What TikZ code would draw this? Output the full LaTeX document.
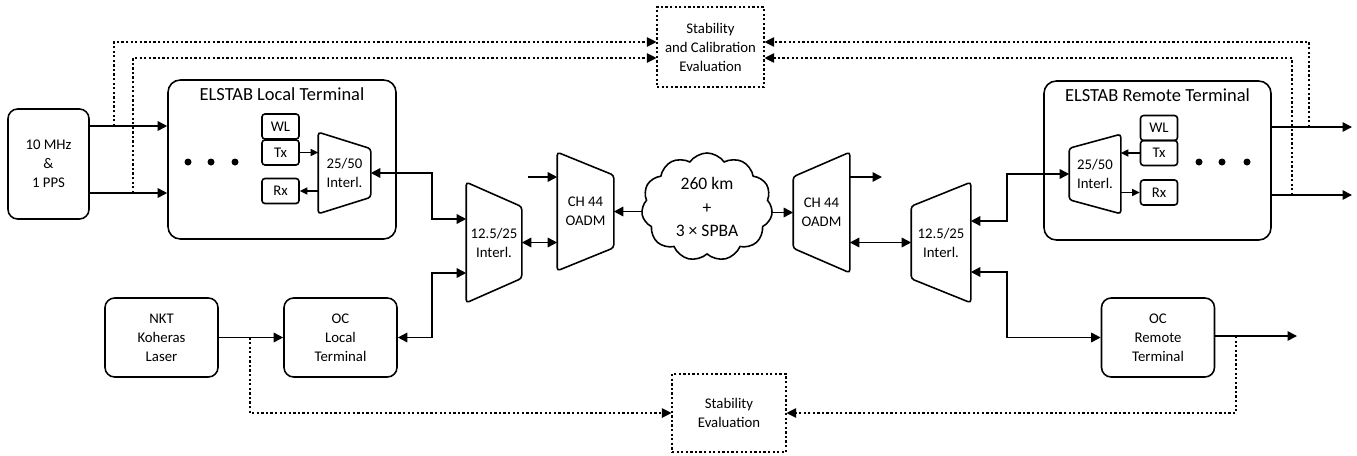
\documentclass[tikz,border=0pt]{standalone}
\usepackage{fontspec}
\setmainfont{Carlito}
\usetikzlibrary{arrows.meta,shapes.symbols}

\tikzset{
    box/.style={draw, rounded corners=5.5pt, align=center, inner sep=1pt,
        minimum width=22.6mm, minimum height=15.8mm},
    bigbox/.style={draw, rounded corners=7pt, minimum width=45.6mm, minimum height=31.8mm},
    smallbox/.style={draw, rounded corners=1.7pt, inner sep=0pt,
        minimum width=7.4mm, minimum height=5mm},
    dotbox/.style={draw, dotline, align=center, inner sep=1pt},
    trap/.style={align=center, inner sep=0pt},
    trapline/.style={rounded corners=1.7pt},
    title/.style={font=\fontsize{10.5}{12.6}\selectfont},
    dotline/.style={line width=0.6pt, dash pattern=on 1.3pt off 1.3pt},
    arr/.style={-{Triangle[length=1.9mm,width=1.9mm]}},
    sarr/.style={-{Triangle[length=1.5mm,width=1.4mm]}},
    dbl/.style={{Triangle[length=1.9mm,width=1.9mm]}-{Triangle[length=1.9mm,width=1.9mm]}},
    blob/.style={circle, fill, inner sep=0pt, minimum size=1.4mm}
}

\begin{document}
\begin{tikzpicture}[x=0.2mm, y=-0.2mm, line width=0.9pt,
        font=\fontsize{8.4}{10.8}\selectfont]

    \useasboundingbox (0,0) rectangle (1357,455);

    % local side
    \node[box, minimum width=16.2mm, minimum height=22mm] (src) at (48.5,164) {10 MHz\\\&\\1 PPS};
    \node[bigbox] (loc) at (282,159.5) {};
    \node[title] (loct) at (282,94) {ELSTAB Local Terminal};
    \node[smallbox] (wl1) at (280.5,126.5) {WL};
    \node[smallbox] (tx1) at (280.5,152.5) {Tx};
    \node[smallbox] (rx1) at (280.5,191) {Rx};
    \node[blob] (d1) at (188,162) {};
    \node[blob] (d2) at (211,162) {};
    \node[blob] (d3) at (235,162) {};
    \node[trap, minimum width=10.2mm, minimum height=16mm] (lint) at (344.5,173) {25/50\\Interl.};
    \draw[trapline] (lint.north west) -- ([yshift=-3.3mm]lint.north east)
        -- ([yshift=3.3mm]lint.south east) -- (lint.south west) -- cycle;

    \node[box] (nkt) at (161.5,337.5) {NKT\\Koheras\\Laser};
    \node[box] (ocl) at (340.5,337.5) {OC\\Local\\Terminal};

    \node[trap, minimum width=10.8mm, minimum height=23.8mm] (iL) at (494,242.5) {12.5/25\\Interl.};
    \draw[trapline] (iL.north west) -- ([yshift=-4.9mm]iL.north east)
        -- ([yshift=4.9mm]iL.south east) -- (iL.south west) -- cycle;
    \node[trap, minimum width=11mm, minimum height=23.4mm] (oL) at (585.5,211.5) {CH 44\\OADM};
    \draw[trapline] (oL.north west) -- ([yshift=-4.6mm]oL.north east)
        -- ([yshift=4.6mm]oL.south east) -- (oL.south west) -- cycle;

    % link
    \node[cloud, draw, cloud puffs=11, cloud puff arc=110, aspect=1.2, inner sep=0pt,
        minimum width=26.2mm, minimum height=21.6mm,
        font=\fontsize{10}{13.3}\selectfont, align=center] (net) at (707,207) {260 km\\+\\3 × SPBA};

    % remote side
    \node[trap, minimum width=11mm, minimum height=23.8mm] (oR) at (821.5,212.5) {CH 44\\OADM};
    \draw[trapline] (oR.north east) -- (oR.south east)
        -- ([yshift=4.9mm]oR.south west) -- ([yshift=-4.9mm]oR.north west) -- cycle;
    \node[trap, minimum width=11.6mm, minimum height=23.8mm] (iR) at (941,242.5) {12.5/25\\Interl.};
    \draw[trapline] (iR.north east) -- (iR.south east)
        -- ([yshift=4.8mm]iR.south west) -- ([yshift=-4.8mm]iR.north west) -- cycle;

    \node[bigbox, minimum width=45.4mm] (rem) at (1157.5,160.5) {};
    \node[title] (remt) at (1157.5,95) {ELSTAB Remote Terminal};
    \node[smallbox] (wl2) at (1159,128) {WL};
    \node[smallbox] (tx2) at (1159,153) {Tx};
    \node[smallbox] (rx2) at (1159,192.5) {Rx};
    \node[blob] (d4) at (1199,162) {};
    \node[blob] (d5) at (1222,162) {};
    \node[blob] (d6) at (1247,162) {};
    \node[trap, minimum width=10mm, minimum height=15.6mm] (rint) at (1095,174) {25/50\\Interl.};
    \draw[trapline] (rint.north east) -- (rint.south east)
        -- ([yshift=2.8mm]rint.south west) -- ([yshift=-2.8mm]rint.north west) -- cycle;

    \node[box] (ocr) at (1158,337.5) {OC\\Remote\\Terminal};

    % evaluation
    \node[dotbox, minimum width=21.4mm, minimum height=16mm] (sce) at (710.5,47) {Stability\\and Calibration\\Evaluation};
    \node[dotbox, minimum width=22.8mm, minimum height=15.6mm] (se) at (729,413) {Stability\\Evaluation};

    % taps and bends
    \coordinate (tA) at (114,126);
    \coordinate (tB) at (133,193);
    \coordinate (tC) at (1309,127);
    \coordinate (tD) at (1292,195);
    \coordinate (tE) at (250,337.5);
    \coordinate (tF) at (1236,336);
    \coordinate (cA) at (114,42);
    \coordinate (cB) at (133,58);
    \coordinate (cC) at (1309,42);
    \coordinate (cD) at (1292,58);
    \coordinate (jL) at (432,219);
    \coordinate (jM) at (432,273);
    \coordinate (jR) at (1007,221);
    \coordinate (jS) at (1007,272);
    \coordinate (inL) at (528,177);
    \coordinate (outR) at (882,177);
    \coordinate (oA) at (1352,127);
    \coordinate (oB) at (1352,195);
    \coordinate (oC) at (1297,336);

    \draw[arr] (src.east |- tA) -- (tA -| loc.west);
    \draw[arr] (src.east |- tB) -- (tB -| loc.west);
    \draw[sarr] (tx1) -- (tx1 -| lint.west);
    \draw[sarr] (rx1 -| lint.west) -- (rx1.east);
    \draw[dbl] (lint.east) -| (jL) -- (jL -| iL.west);
    \draw[dbl] (ocl.east) -| (jM) -- (jM -| iL.west);
    \path[arr] (nkt) edge (ocl);
    \draw[dbl] (iL.east) -- (iL.east -| oL.west);
    \draw[arr] (inL) -- (inL -| oL.west);
    \draw[arr] (oL.east -| net.west) -- (oL.east);
    \draw[arr] (oR.west -| net.east) -- (oR.west);
    \draw[arr] (outR -| oR.east) -- (outR);
    \draw[dbl] (oR.east |- iR.west) -- (iR.west);
    \draw[dbl] (iR.east |- jR) -- (jR) |- (rint.west);
    \draw[dbl] (iR.east |- jS) -- (jS) |- (ocr.west);
    \draw[sarr] (tx2.west) -- (tx2.west -| rint.east);
    \draw[sarr] (rx2.west -| rint.east) -- (rx2.west);
    \draw[arr] (oA -| rem.east) -- (oA);
    \draw[arr] (oB -| rem.east) -- (oB);
    \draw[arr] (ocr.east |- oC) -- (oC);

    \draw[dotline, arr] (tA) -- (cA) -- (cA -| sce.west);
    \draw[dotline, arr] (tB) -- (cB) -- (cB -| sce.west);
    \draw[dotline, arr] (tC) -- (cC) -- (cC -| sce.east);
    \draw[dotline, arr] (tD) -- (cD) -- (cD -| sce.east);
    \draw[dotline, arr] (tE) |- (se.west);
    \draw[dotline, arr] (tF) |- (se.east);

\end{tikzpicture}
\end{document}
